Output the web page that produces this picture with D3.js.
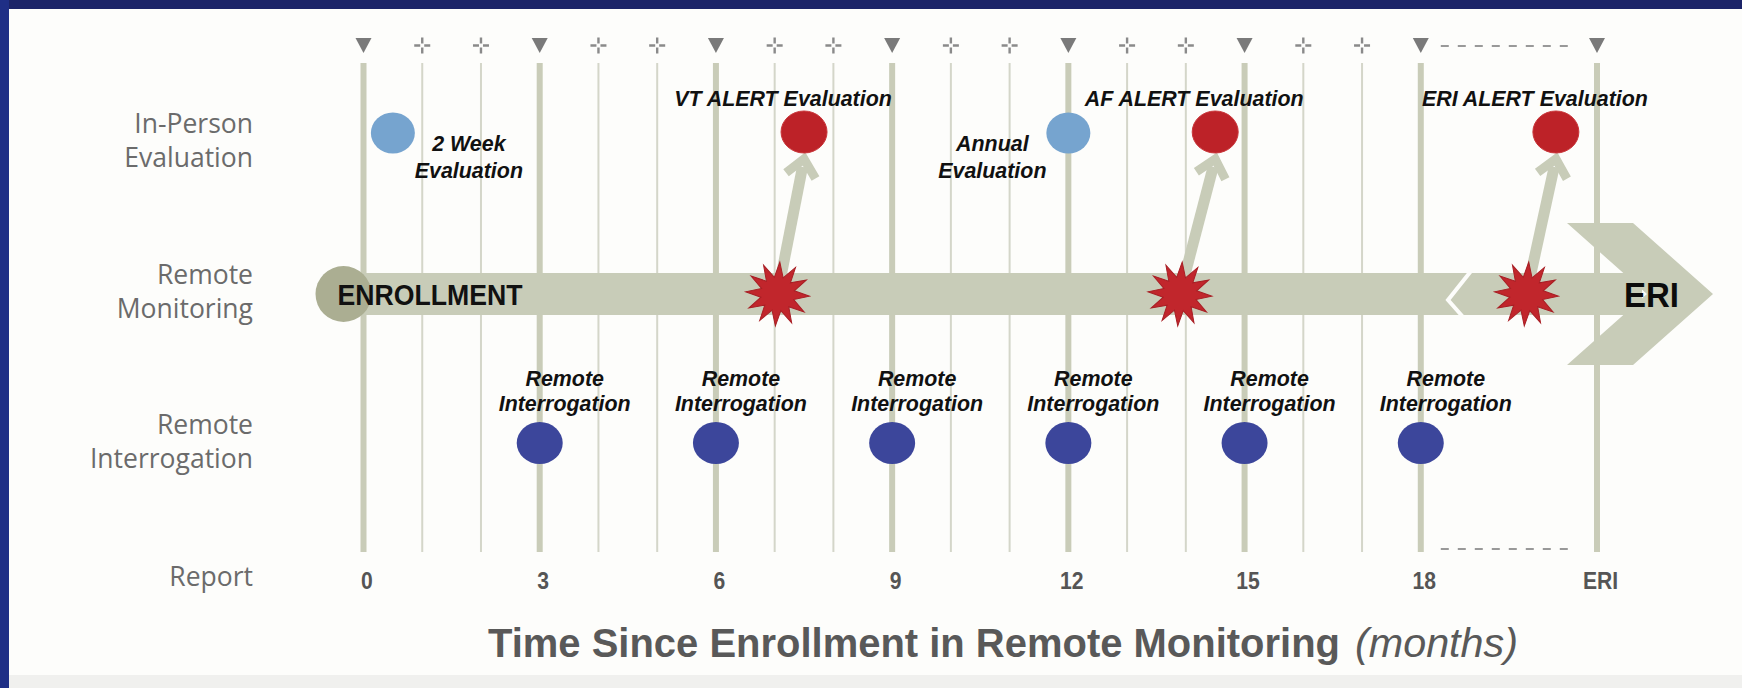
<!DOCTYPE html>
<html><head><meta charset="utf-8">
<script src="https://cdn.jsdelivr.net/npm/d3@7"></script>
<style>html,body{margin:0;padding:0;background:#fff;overflow:hidden}</style>
</head><body><svg id="chart" width="1742" height="688"></svg>
<script>
// ---------------- data ----------------
const gridMonths = [0,1,2,3,4,5,6,7,8,9,10,11,12,13,14,15,16,17,18,21]; // 21 = ERI position
const tickMonths = [0,3,6,9,12,15,18,21];
const tickLabels = ["0","3","6","9","12","15","18","ERI"];
const rowNames = ["In-Person Evaluation","Remote Monitoring","Remote Interrogation","Report"];
const rowLines = [["In-Person","Evaluation"],["Remote","Monitoring"],["Remote","Interrogation"],["Report"]];
const routineEvalMonths = [0.5, 12];
const routineEvalLabels = [["2 Week","Evaluation"],["Annual","Evaluation"]];
const routineEvalLabelSide = [1, -1];
const alertNames = ["VT ALERT Evaluation","AF ALERT Evaluation","ERI ALERT Evaluation"];
const alertDetectMonths = [7.05, 13.9, 19.8];
const alertEvalMonths = [7.5, 14.5, 20.3];
const remoteInterrogationMonths = [3,6,9,12,15,18];
const remoteInterrogationLabel = ["Remote","Interrogation"];
const breakMonth = 18.6;
const startLabel = "ENROLLMENT";
const endLabel = "ERI";
const titleMain = "Time Since Enrollment in Remote Monitoring";
const titleUnit = "(months)";

// ---------------- layout ----------------
const W = 1742, H = 688;
const svg = d3.select("#chart");
const x = d3.scaleLinear().domain([0, 21]).range([363.5, 1597]);
const y = d3.scaleOrdinal().domain(rowNames).range([140.5, 291.5, 441.5, 577]);
const isMajor = m => tickMonths.includes(m);

const C = {
  navyTop: "#1c2468", navyLeft: "#1f2f86", bg: "#fdfdfb", grid: "#c9ccb8", gridThin: "#d4d6c9",
  band: "#c8ccb8", enroll: "#abae92", red: "#bd2228", redStar: "#c1262c", lightBlue: "#76a4cf",
  navyDot: "#3c469b", label: "#6b6b6b", tick: "#555", text: "#111", marker: "#7a7a7a"
};

// frame
svg.append("rect").attr("width", W).attr("height", H).attr("fill", C.bg);
svg.append("rect").attr("x", 9).attr("y", 675).attr("width", W - 9).attr("height", 13).attr("fill", "#f0f0ee");
svg.append("rect").attr("width", W).attr("height", 9).attr("fill", C.navyTop);
svg.append("rect").attr("width", 9).attr("height", H).attr("fill", C.navyLeft);

// vertical grid
const gTop = 63, gBot = 552;
svg.append("g").selectAll("line").data(gridMonths).join("line")
  .attr("x1", d => x(d)).attr("x2", d => x(d)).attr("y1", gTop).attr("y2", gBot)
  .attr("stroke", d => isMajor(d) ? C.grid : C.gridThin)
  .attr("stroke-width", d => isMajor(d) ? 6 : 2);

// top markers
const mk = svg.append("g");
mk.selectAll("path.tri").data(tickMonths).join("path").attr("class", "tri")
  .attr("d", d => `M${x(d)-8},38 L${x(d)+8},38 L${x(d)},53 Z`).attr("fill", C.marker);
const crossMonths = gridMonths.filter(m => !isMajor(m));
mk.selectAll("path.cross").data(crossMonths).join("path").attr("class", "cross")
  .attr("d", d => { const c = x(d); return `M${c-8},45.5 H${c-2} M${c+2},45.5 H${c+8} M${c},37.5 V43.5 M${c},47.5 V53.5`; })
  .attr("stroke", "#8a8a8a").attr("stroke-width", 2.4).attr("fill", "none");
// dashed gap markers between 18 and ERI
[46, 549].forEach(yy => {
  svg.append("line").attr("x1", x(18) + 20).attr("x2", x(21) - 22).attr("y1", yy).attr("y2", yy)
    .attr("stroke", "#999").attr("stroke-width", 2).attr("stroke-dasharray", "8,9");
});

// row labels
const rowG = svg.append("g");
rowNames.forEach((r, i) => {
  const lines = rowLines[i];
  const lh = 34;
  lines.forEach((t, j) => {
    rowG.append("text").attr("x", 253)
      .attr("y", y(r) + (j - (lines.length - 1) / 2) * lh + 9)
      .attr("text-anchor", "end").attr("font-family", "'Open Sans', 'Noto Sans', sans-serif")
      .attr("font-size", 26.5).attr("fill", C.label).text(t);
  });
});

// x axis labels
const axisG = svg.append("g").attr("transform", "translate(3,0)")
  .call(d3.axisBottom(x).tickValues(tickMonths).tickFormat((d, i) => tickLabels[i]).tickSize(0));
axisG.select(".domain").remove();
axisG.selectAll("text").attr("y", y("Report") + 3).attr("dy", "0.36em")
  .attr("font-family", "'Liberation Sans', Arial, sans-serif")
  .attr("font-weight", "bold").attr("font-size", 24).attr("fill", C.tick)
  .each(function () {
    const w = this.getComputedTextLength();
    d3.select(this).attr("textLength", w * 0.88).attr("lengthAdjust", "spacingAndGlyphs");
  });

// main monitoring band
const cy = y("Remote Monitoring") + 2.5;
const band = svg.append("g");
band.append("rect").attr("x", x(0) - 20).attr("y", cy - 21).attr("width", x(21) + 45 - (x(0) - 20)).attr("height", 42).attr("fill", C.band);
band.append("path").attr("d", `M${x(21)-30},${cy-71} L${x(21)+36},${cy-71} L${x(21)+116},${cy} L${x(21)+36},${cy+71} L${x(21)-30},${cy+71} L${x(21)+50},${cy} Z`).attr("fill", C.band);
band.append("circle").attr("cx", x(0) - 20).attr("cy", cy).attr("r", 28).attr("fill", C.enroll);
const bx = x(breakMonth);
band.append("polyline").attr("points", `${bx+15},${cy-23} ${bx-8},${cy+6} ${bx+7},${cy+23}`)
  .attr("fill", "none").attr("stroke", "#fdfdfb").attr("stroke-width", 4);

// alert arrows
const evalY = y("In-Person Evaluation") - 8.5;
const arrG = svg.append("g");
alertDetectMonths.forEach((m, i) => {
  const sx = x(m), sy = cy;
  const ex = x(alertEvalMonths[i]), ey = evalY + 21 + 6;
  const dx = ex - sx, dy = ey - sy, L = Math.hypot(dx, dy);
  const ux = dx / L, uy = dy / L, px = -uy, py = ux;
  arrG.append("line").attr("x1", sx).attr("y1", sy).attr("x2", ex - ux * 8).attr("y2", ey - uy * 8)
    .attr("stroke", C.band).attr("stroke-width", 11);
  const w1 = [ex - ux * 17 + px * 15, ey - uy * 17 + py * 15];
  const w2 = [ex - ux * 17 - px * 15, ey - uy * 17 - py * 15];
  arrG.append("path").attr("d", `M${w1[0]},${w1[1]} L${ex},${ey} L${w2[0]},${w2[1]}`)
    .attr("fill", "none").attr("stroke", C.band).attr("stroke-width", 9).attr("stroke-linejoin", "miter");
});

// stars
const starPts = d3.range(24).map(k => [k * Math.PI / 12, k % 2 === 0 ? 32 : 17]);
const starPath = d3.lineRadial().curve(d3.curveLinearClosed)(starPts);
svg.append("g").selectAll("path").data(alertDetectMonths).join("path")
  .attr("d", starPath).attr("transform", d => `translate(${x(d)},${cy}) rotate(4)`)
  .attr("fill", C.redStar).attr("stroke", "#a81e24").attr("stroke-width", 1);

// band text
const boldFont = "'Liberation Sans', Arial, sans-serif";
band.append("text").attr("x", x(0) - 26).attr("y", cy + 10.5).attr("font-family", boldFont)
  .attr("font-weight", "bold").attr("font-size", 29).attr("fill", "#111")
  .attr("textLength", 185).attr("lengthAdjust", "spacingAndGlyphs").text(startLabel);
svg.append("text").attr("x", x(21) + 27).attr("y", cy + 12.5).attr("font-family", boldFont)
  .attr("font-weight", "bold").attr("font-size", 35).attr("fill", "#0c0c0c")
  .attr("textLength", 55).attr("lengthAdjust", "spacingAndGlyphs").text(endLabel);

// evaluation dots
svg.append("g").selectAll("ellipse").data(alertEvalMonths).join("ellipse")
  .attr("cx", d => x(d)).attr("cy", evalY).attr("rx", 23).attr("ry", 21).attr("fill", C.red)
  .attr("stroke", "#c9363a").attr("stroke-width", 1);
svg.append("g").selectAll("ellipse").data(routineEvalMonths).join("ellipse")
  .attr("cx", d => x(d)).attr("cy", evalY + 1).attr("rx", 22).attr("ry", 20.5).attr("fill", C.lightBlue);
const riY = y("Remote Interrogation") + 1.5;
svg.append("g").selectAll("ellipse").data(remoteInterrogationMonths).join("ellipse")
  .attr("cx", d => x(d)).attr("cy", riY).attr("rx", 23).attr("ry", 21).attr("fill", C.navyDot);

// italic bold annotation labels
const annFont = "'Liberation Sans', Arial, sans-serif";
const probe = svg.append("text").attr("font-family", annFont).attr("font-weight", "bold")
  .attr("font-style", "italic").attr("font-size", 22).text("Interrogation");
const kCond = 132 / probe.node().getComputedTextLength();
probe.remove();
function ann(g, t, cx, yy) {
  const el = g.append("text").attr("x", cx).attr("y", yy).attr("text-anchor", "middle")
    .attr("font-family", annFont).attr("font-weight", "bold").attr("font-style", "italic")
    .attr("font-size", 22).attr("fill", C.text).text(t);
  const w = el.node().getComputedTextLength();
  el.attr("textLength", w * kCond).attr("lengthAdjust", "spacingAndGlyphs");
}
const annG = svg.append("g");
alertNames.forEach((t, i) => ann(annG, t, x(alertEvalMonths[i]) - 21, y("In-Person Evaluation") - 35));
routineEvalMonths.forEach((m, i) => {
  const c = x(m) + routineEvalLabelSide[i] * 76;
  routineEvalLabels[i].forEach((t, j) => ann(annG, t, c, y("In-Person Evaluation") + 10 + j * 27));
});
remoteInterrogationMonths.forEach(m => {
  remoteInterrogationLabel.forEach((t, j) => ann(annG, t, x(m) + 25, y("Remote Interrogation") - 56 + j * 25));
});

// axis title
const tG = svg.append("g");
tG.append("text").attr("x", 488).attr("y", 657).attr("font-family", boldFont)
  .attr("font-weight", "bold").attr("font-size", 41).attr("fill", "#595959")
  .attr("textLength", 852).attr("lengthAdjust", "spacingAndGlyphs").text(titleMain);
tG.append("text").attr("x", 1355).attr("y", 657).attr("font-family", "'Liberation Sans', Arial, sans-serif")
  .attr("font-style", "italic").attr("font-size", 41).attr("fill", "#595959")
  .attr("textLength", 163).attr("lengthAdjust", "spacingAndGlyphs").text(titleUnit);
</script></body></html>
